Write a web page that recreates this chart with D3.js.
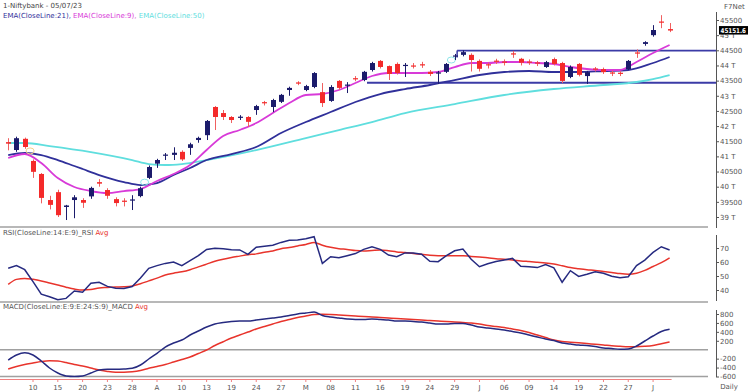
<!DOCTYPE html>
<html><head><meta charset="utf-8">
<script src="https://cdn.jsdelivr.net/npm/d3@7"></script>
<style>
body{margin:0;background:#fff;}
svg{display:block;font-family:"DejaVu Sans",Verdana,sans-serif;}
</style></head><body>
<svg id="c" width="748" height="392"></svg>
<script>
// ---- DATA ----
const title = "1-Niftybank - 05/07/23";
const tickIdx = [3,6,9,12,15,18,21,24,27,30,33,36,39,42,45,48,51,54,57,60,63,66,69,72,75,78];
const tickText = ["10","15","20","23","28","A","10","13","19","24","27","M","08","11","16","19","24","29","J","06","09","14","19","22","27","J"];

const openP = [41470,41210,41580,40850,40420,39560,39820,39330,39560,39560,39680,40150,39890,39590,39540,39540,39690,40290,40760,41020,41050,41150,41280,41540,41700,42630,42430,42300,42280,42300,42530,42790,42630,42800,43190,43440,43190,43290,43120,42830,43490,43330,43580,43520,43850,44150,43980,44050,43990,44000,44040,43790,43740,43790,44300,44350,44350,44150,44040,44160,44130,44400,44220,44130,44100,43950,44210,44080,43620,44050,43650,43900,43880,43770,43760,43880,44430,44710,45000,45450,45200];
const highP = [41600,41650,41620,40900,40450,39700,39900,39400,39720,39620,40000,40250,39950,39650,39620,39720,40000,40700,40920,41110,41300,41200,41450,41650,42200,42660,42530,42330,42360,42330,42700,42830,42900,43060,43300,43480,43360,43780,43420,43350,43520,43450,43650,43820,44120,44180,44000,44100,44080,44080,44120,43850,43820,44080,44380,44500,44400,44200,44100,44220,44200,44480,44250,44200,44150,44150,44260,44120,44000,44080,43820,43950,43930,43830,43810,44180,44530,44800,45330,45660,45400];
const lowP = [41200,41150,41250,40290,39450,39250,39000,38900,38960,39300,39600,40000,39600,39350,39350,39230,39650,40250,40620,40880,40880,40850,41050,41450,41540,41870,42200,42100,42200,41970,42370,42680,42460,42760,43000,43350,43150,43250,42630,42800,43200,43090,43480,43480,43800,43900,43520,43700,43620,43900,43920,43650,43390,43750,44180,44300,43800,43800,43900,44050,44000,44250,44000,44020,43980,43920,44000,43420,43580,43640,43390,43800,43720,43650,43650,43850,44250,44650,44950,45230,45100];
const closeP = [41420,41600,41310,40490,39630,39400,39060,39380,39650,39470,39960,40100,39700,39460,39500,39580,39950,40650,40880,41060,41120,40900,41400,41610,42170,42300,42300,42200,42310,42140,42660,42760,42860,43030,43260,43400,43320,43750,42760,43290,43260,43370,43550,43790,44080,43950,43720,43750,44020,43970,44000,43720,43770,44050,44330,44440,44180,43890,44000,44120,44100,44360,44090,44100,44070,44110,44050,43490,43950,43690,43780,43870,43780,43740,43730,44150,44400,44770,45170,45420,45152];
const lastPrice = "45151.6";

const ema21Idx = [0,2,4,6,8,9,11,14,16,18,20,22,24,27,30,33,36,39,42,45,48,51,54,57,60,63,66,69,72,75,78,80];
const ema21Val = [41045,41111,41045,40880,40682,40583,40385,40154,40055,40121,40385,40616,40880,41078,41309,41771,42134,42464,42794,43058,43223,43355,43520,43685,43784,43817,43784,43784,43817,43850,44081,44279];
const ema9Idx = [0,2,4,6,8,10,12,14,16,18,20,22,24,26,28,30,32,34,36,38,40,42,44,46,48,50,52,54,56,58,60,62,64,66,68,70,72,74,76,78,80];
const ema9Val = [40946,41078,40781,40286,39989,39857,39791,39857,39923,40187,40418,40715,41210,41672,41870,42101,42431,42761,43025,43058,43190,43421,43652,43751,43751,43751,43784,43949,44081,44081,44114,44114,44081,44048,43949,43883,43850,43850,44114,44411,44675];
const ema50Idx = [0,2,5,10,15,17,19,21,24,30,36,40,44,48,54,60,66,72,76,78,80];
const ema50Val = [41441,41441,41342,41144,40880,40748,40715,40748,40880,41210,41606,41870,42134,42431,42728,43025,43223,43355,43454,43553,43685];

const srLevel = [44490, 43430];
const srStartIdx = [54.3, 43.4];
const markIdx = [2.65, 16.5, 53.6];
const markPrice = [41180, 40150, 44180];

const rsi = [55.5,57.4,54.5,46,37,35.2,33,34,39.3,38.4,44.8,45.5,42.6,41.2,41,42.5,48.5,55.5,57.4,59,60,57.4,61,64.5,69,69.8,69.5,68.8,68.6,65.5,70.5,71.3,72,74,75.5,75.7,76.6,78.1,59,63.8,63,64.5,66,69,70.9,69,65,63.8,66.5,66.5,65.5,60.5,60.2,64.5,68,69.3,62,56.6,58.8,60.3,61.4,62.6,57,56.6,56,58.2,55.8,45.5,53.8,49.7,51.2,53,52,49.8,48.8,49.5,57.4,61.4,66.9,70.9,68.6];
const rsiAvg = [44,47.6,48.3,47.6,46.5,45,43.5,42,40.7,40,40.3,41.5,41.8,42.1,42.3,42.9,44.5,46.5,48.5,50.7,52,53,54.5,56.5,58.5,60.5,62,63.2,64.2,65.2,65.8,67,67.9,69.5,70.3,71.5,72.5,74,72,70.5,69.5,69,68.2,67.9,68.2,68.5,68,67.2,66.8,66,65.5,64.8,64.5,64.5,64.5,64.5,64,63.5,63,62.3,62,61.5,60.8,60.3,59.8,59.3,58.5,57.3,56,55.2,54.5,54,53.2,52.5,51.7,51.3,52,54,56.8,59.5,63];
const rsiTicks = [40,50,60,70];

const macd = [-231,-119,-67,-119,-253,-410,-522,-589,-600,-589,-522,-455,-439,-439,-432,-417,-343,-208,-81,60,150,217,329,419,508,576,609,632,643,643,665,688,710,732,766,800,822,844,766,732,710,688,676,676,688,676,665,643,643,632,620,598,576,576,587,587,553,508,486,464,441,408,374,329,284,240,206,150,128,105,94,72,38,27,9,16,83,195,307,408,457];
const macdAvg = [-432,-376,-332,-298,-264,-246,-253,-287,-332,-365,-410,-455,-488,-506,-506,-495,-466,-417,-376,-332,-276,-220,-164,-85,-7,94,179,262,329,396,464,520,576,632,676,721,755,788,793,788,777,766,755,744,732,721,710,699,688,676,665,654,643,632,620,609,598,576,542,520,497,464,430,385,329,273,217,184,168,155,139,121,105,87,76,67,67,76,94,132,172];
const macdTicks = [800,600,400,200,-200,-400,-600];
const priceTicks = d3.range(39000, 45501, 500);

// ---- STYLE ----
const C = {navy:"#2c2c86", bull:"#1b1b6b", bear:"#f42a2a", mag:"#d83ad8", cyan:"#5fdede", red:"#e8342c", grid:"#a0a0a0", txt:"#555"};
const FS = 7;

const svg = d3.select("#c");
const x = d3.scaleLinear().domain([0,80]).range([8.2,669.6]);
const yP = d3.scaleLinear().domain([39000,45500]).range([217,20]);
const yR = d3.scaleLinear().domain([40,70]).range([290,248]);
const yM = d3.scaleLinear().domain([-600,800]).range([376.5,314]);
const AX = 716, PANEL_R = 708;

// panel separators
[227, 302, 376.5].forEach(yy => svg.append("line").attr("x1",0).attr("x2",PANEL_R).attr("y1",yy).attr("y2",yy)
  .attr("stroke",C.grid).attr("stroke-width",1.6));
svg.append("line").attr("x1",0).attr("x2",PANEL_R).attr("y1",yM(0)).attr("y2",yM(0)).attr("stroke",C.grid).attr("stroke-width",1.4);

// axes
function rAxis(scale, ticks, fmt, y0, y1){
  const g = svg.append("g").attr("transform",`translate(${AX},0)`)
    .call(d3.axisRight(scale).tickValues(ticks).tickFormat(fmt).tickSize(3).tickSizeOuter(0));
  g.select(".domain").remove();
  g.append("line").attr("x1",0.5).attr("x2",0.5).attr("y1",y0).attr("y2",y1).attr("stroke","#555");
  g.selectAll(".tick line").attr("stroke","#555");
  g.selectAll(".tick text").attr("x",4).attr("fill",C.txt).style("font-size",FS+"px").style("font-family","DejaVu Sans");
  return g;
}
rAxis(yP, priceTicks, d => d%1000===0 ? (d/1000)+" T" : String(d), 12, 228);
rAxis(yR, rsiTicks, d => d, 235, 301);
rAxis(yM, macdTicks, d => d, 310, 377);

// S/R lines
srLevel.forEach((lv,k) => svg.append("line").attr("x1",x(srStartIdx[k])).attr("x2",AX)
  .attr("y1",yP(lv)).attr("y2",yP(lv)).attr("stroke","#3b3ba6").attr("stroke-width",1.8));
svg.append("line").attr("x1",x(srStartIdx[0])).attr("x2",x(srStartIdx[0]))
  .attr("y1",yP(srLevel[0])).attr("y2",yP(srLevel[0])+7).attr("stroke","#3b3ba6").attr("stroke-width",1.5);

// EMAs
function pline(idx, vals, col, w){
  svg.append("path").datum(idx.map((d,k)=>[d,vals[k]]))
    .attr("d", d3.line().x(d=>x(d[0])).y(d=>yP(d[1])).curve(d3.curveMonotoneX))
    .attr("fill","none").attr("stroke",col).attr("stroke-width",w);
}
pline(ema50Idx, ema50Val, C.cyan, 1.8);
pline(ema21Idx, ema21Val, "#30309a", 1.8);
pline(ema9Idx, ema9Val, C.mag, 1.8);

// crossover markers
const markCol = ["#f3d38a","#8fe6ea","#8fe6ea"];
markIdx.forEach((m,k)=> svg.append("ellipse").attr("cx",x(m)).attr("cy",yP(markPrice[k])).attr("rx",4).attr("ry",3)
  .attr("fill","none").attr("stroke",markCol[k]).attr("stroke-width",1));

// candles
const cg = svg.append("g");
d3.range(openP.length).forEach(i => {
  const up = closeP[i] >= openP[i];
  const col = up ? C.bull : C.bear;
  const cx = Math.round(x(i)) + 0.5;
  cg.append("line").attr("x1",cx).attr("x2",cx).attr("y1",yP(highP[i])).attr("y2",yP(lowP[i]))
    .attr("stroke", up ? col : "#f06060").attr("stroke-width",1);
  const yt = yP(Math.max(openP[i],closeP[i])), yb = yP(Math.min(openP[i],closeP[i]));
  cg.append("rect").attr("x",cx-2.5).attr("y",yt).attr("width",5).attr("height",Math.max(1.2,yb-yt)).attr("fill",col);
});

// RSI
const lineR = () => d3.line().x((d,i)=>x(i)).y(d=>yR(d));
svg.append("path").datum(rsiAvg).attr("d",lineR().curve(d3.curveMonotoneX)).attr("fill","none").attr("stroke",C.red).attr("stroke-width",1.5);
svg.append("path").datum(rsi).attr("d",lineR()).attr("fill","none").attr("stroke","#262a80").attr("stroke-width",1.5);

// MACD
const lineM = d3.line().x((d,i)=>x(i)).y(d=>yM(d)).curve(d3.curveMonotoneX);
svg.append("path").datum(macdAvg).attr("d",lineM).attr("fill","none").attr("stroke",C.red).attr("stroke-width",1.5);
svg.append("path").datum(macd).attr("d",lineM).attr("fill","none").attr("stroke","#262a80").attr("stroke-width",1.5);

// x axis
svg.append("line").attr("x1",0).attr("x2",x(80)+2).attr("y1",379.5).attr("y2",379.5).attr("stroke","#f08080").attr("stroke-width",1);
tickIdx.forEach((ti,k)=>{
  svg.append("line").attr("x1",x(ti)).attr("x2",x(ti)).attr("y1",379.5).attr("y2",382).attr("stroke","#f08080");
  svg.append("text").attr("x",x(ti)).attr("y",390).attr("text-anchor","middle").attr("fill",C.txt)
    .style("font-size",FS+"px").text(tickText[k]);
});
svg.append("text").attr("x",729).attr("y",389).attr("text-anchor","middle").attr("fill",C.txt).style("font-size",FS+"px").text("Daily");

// texts
svg.append("text").attr("x",3).attr("y",8).attr("fill","#444").style("font-size",FS+"px").text(title);
const lg = svg.append("text").attr("x",3).attr("y",18).style("font-size",FS+"px");
lg.append("tspan").attr("fill","#30309a").text("EMA(CloseLine:21), ");
lg.append("tspan").attr("fill",C.mag).text("EMA(CloseLine:9), ");
lg.append("tspan").attr("fill",C.cyan).text("EMA(CloseLine:50)");
svg.append("text").attr("x",724).attr("y",9).attr("fill",C.txt).style("font-size",FS+"px").text("F7Net");

const rl = svg.append("text").attr("x",3).attr("y",235).style("font-size",FS+"px");
rl.append("tspan").attr("fill","#555").text("RSI(CloseLine:14:E:9)_RSI ");
rl.append("tspan").attr("fill",C.red).text("Avg");
const ml = svg.append("text").attr("x",3).attr("y",309).style("font-size",FS+"px");
ml.append("tspan").attr("fill","#555").text("MACD(CloseLine:E:9:E:24:S:9)_MACD ");
ml.append("tspan").attr("fill",C.red).text("Avg");

// last price label
const lp = yP(+lastPrice);
svg.append("rect").attr("x",719).attr("y",lp-4.5).attr("width",29).attr("height",8.5).attr("fill","#000");
svg.append("text").attr("x",720.5).attr("y",lp+2.4).attr("fill","#fff").attr("textLength",25.5).attr("lengthAdjust","spacingAndGlyphs")
  .style("font-size","6.6px").style("font-weight","bold").text(lastPrice);
</script>
</body></html>
